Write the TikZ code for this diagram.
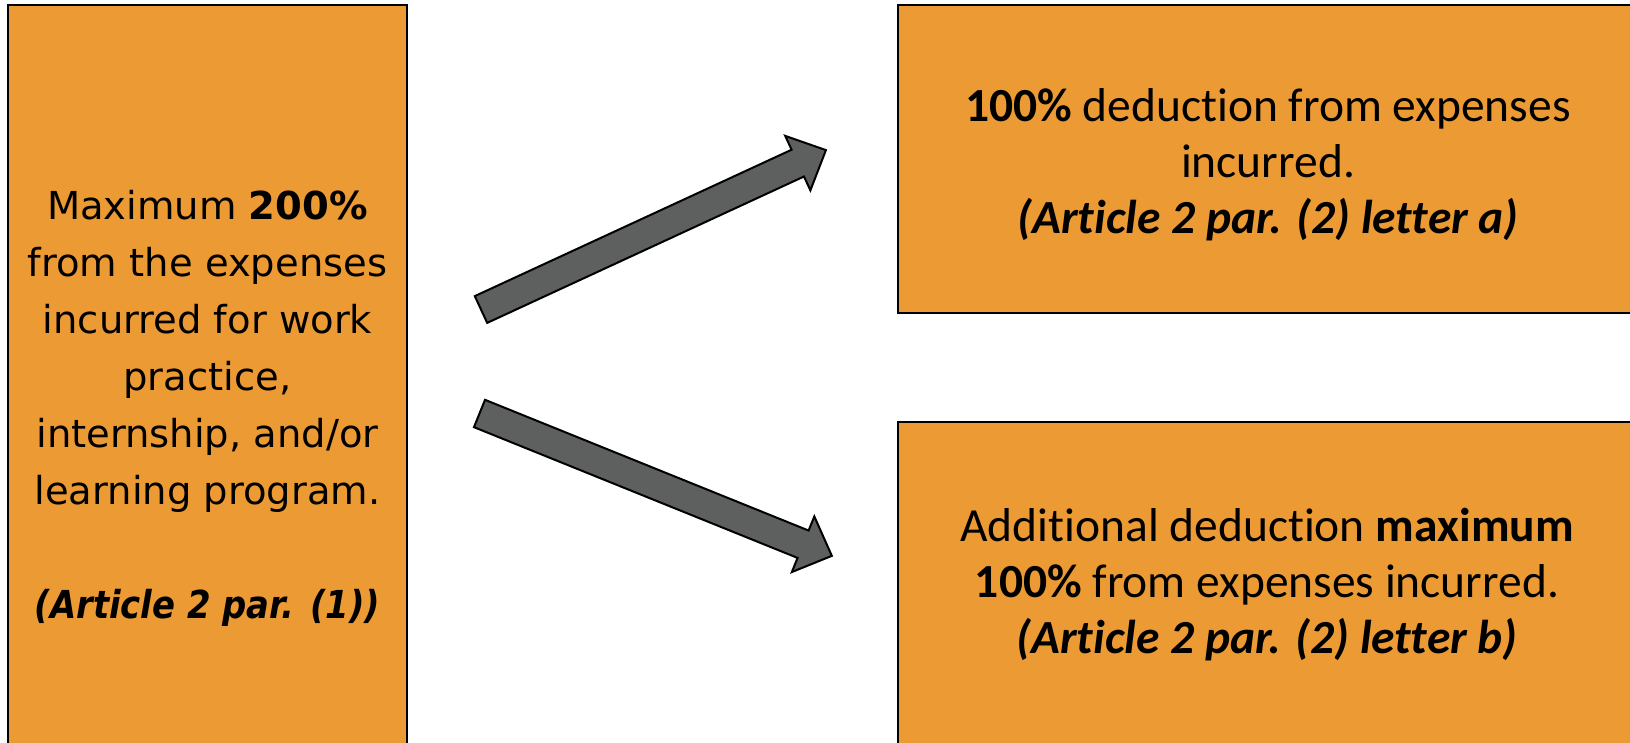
\documentclass[tikz,border=0pt]{standalone}
\usepackage{fontspec}
\newfontfamily\lfont{DejaVu Sans}
\newfontfamily\litfont[FakeStretch=0.88]{DejaVu Sans}
\newfontfamily\rfont[Ligatures={NoCommon}]{Carlito}
\definecolor{boxorange}{RGB}{236,154,51}
\definecolor{arrowgray}{RGB}{94,96,95}
\begin{document}
\begin{tikzpicture}[x=1pt,y=1pt,
  box/.style={draw=black, line width=2pt, fill=boxorange, rectangle, inner sep=0pt, outer sep=0pt},
  ltext/.style={font=\lfont\fontsize{38.5}{57}\selectfont, align=center, text=black, inner sep=0pt},
  rtext/.style={font=\rfont\fontsize{47.5}{56}\selectfont, align=center, text=black, inner sep=0pt},
  blockarrow/.style={draw=black, line width=2pt, fill=arrowgray, line join=miter}]
\useasboundingbox (0,0) rectangle (1630,-743);
\fill[white] (0,0) rectangle (1630,-743);
\clip (0,0) rectangle (1630,-743);

% boxes
\node[box, minimum width=399pt, minimum height=800pt] (left) at (207.5,-405) {};
\node[box, minimum width=760pt, minimum height=307.5pt] (topright) at (1278,-158.75) {};
\node[box, minimum width=760pt, minimum height=378pt] (botright) at (1278,-611) {};

% texts
\node[ltext] (lefttext) at (207.5,-408) {Maximum \textbf{200\%}\\ from the expenses\\ incurred for work\\ practice,\\ internship, and/or\\ learning program.\\[57pt] {\litfont\bfseries\itshape (Article 2 par. (1))}};
\node[rtext] (toptext) at (1268,-165) {\textbf{100\%} deduction from expenses\\ incurred.\\ \textbf{\textit{(Article 2 par. (2) letter a)}}};
\node[rtext] (bottext) at (1267,-585) {Additional deduction \textbf{maximum}\\ \textbf{100\%} from expenses incurred.\\ \textbf{\textit{(Article 2 par. (2) letter b)}}};

% block arrows
\begin{scope}[shift={(481,-309.5)}, rotate=24.8]
  \coordinate (upTail) at (0,0);
  \coordinate (upTip) at (380,0);
  \draw[blockarrow] (upTail) ++(0,-14.75) -- ++(349,0) -- ++(0,-15.25) -- (upTip) -- ++(-31,30) -- ++(0,-15.25) -- ++(-349,0) -- cycle;
\end{scope}
\begin{scope}[shift={(479.5,-413.5)}, rotate=-22]
  \coordinate (downTail) at (0,0);
  \coordinate (downTip) at (380,0);
  \draw[blockarrow] (downTail) ++(0,-14.75) -- ++(349,0) -- ++(0,-15.25) -- (downTip) -- ++(-31,30) -- ++(0,-15.25) -- ++(-349,0) -- cycle;
\end{scope}
\end{tikzpicture}
\end{document}
